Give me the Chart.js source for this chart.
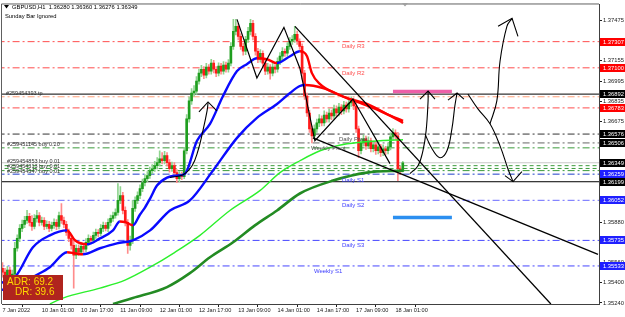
<!DOCTYPE html>
<html>
<head>
<meta charset="utf-8">
<title>GBPUSD H1</title>
<script src="https://cdn.jsdelivr.net/npm/chart.js@4.4.1/dist/chart.umd.min.js"></script>
<style>
    html, body { margin: 0; padding: 0; background: #ffffff; }
    #wrap { position: relative; width: 625px; height: 317px; }
</style>
</head>
<body>
<div id="wrap"><canvas id="chart" width="625" height="317"></canvas></div>
<script>
// ========================================
// GBPUSD H1 - chart data (bar index = hourly bar from 7 Jan 09:00)
// ========================================

const timeTickBars = [0, 16, 32, 48, 64, 80, 96, 112, 128, 144, 160];
const timeLabels = ['7 Jan 2022', '10 Jan 01:00', '10 Jan 17:00', '11 Jan 09:00', '12 Jan 01:00',
    '12 Jan 17:00', '13 Jan 09:00', '14 Jan 01:00', '14 Jan 17:00', '17 Jan 09:00', '18 Jan 01:00'];

const priceTicks = [1.37475, 1.37315, 1.37155, 1.36995, 1.36835, 1.36675, 1.36515, 1.36355,
    1.36195, 1.36035, 1.35880, 1.35720, 1.35560, 1.35400, 1.35240];

const opens = [
    1.35515,1.35484,1.35452,1.35500,1.35437,1.35468,1.35673,1.35751,1.35830,1.35862,
    1.35893,1.35925,1.35877,1.35846,1.35909,1.35932,1.35877,1.35893,1.35846,1.35862,
    1.35830,1.35854,1.35877,1.35846,1.35932,1.35893,1.35862,1.35799,1.35751,1.35696,
    1.35618,1.35673,1.35641,1.35689,1.35665,1.35720,1.35751,1.35736,1.35775,1.35799,
    1.35791,1.35830,1.35854,1.35830,1.35877,1.35909,1.35932,1.35956,1.36051,1.36090,
    1.35972,1.35877,1.35696,1.35736,1.35988,1.36051,1.36090,1.36145,1.36192,1.36224,
    1.36247,1.36287,1.36302,1.36326,1.36350,1.36381,1.36365,1.36405,1.36350,1.36302,
    1.36326,1.36271,1.36224,1.36255,1.36239,1.36444,1.36696,1.36838,1.36901,1.36916,
    1.36995,1.37058,1.37089,1.37042,1.37105,1.37074,1.37137,1.37089,1.37058,1.37113,
    1.37074,1.37121,1.37089,1.37137,1.37270,1.37388,1.37428,1.37349,1.37270,1.37231,
    1.37325,1.37388,1.37451,1.37349,1.37231,1.37168,1.37215,1.37137,1.37074,1.37105,
    1.37058,1.37105,1.37089,1.37152,1.37192,1.37231,1.37215,1.37270,1.37310,1.37325,
    1.37365,1.37310,1.37270,1.37058,1.36877,1.36743,1.36617,1.36562,1.36617,1.36664,
    1.36696,1.36664,1.36727,1.36696,1.36743,1.36719,1.36775,1.36743,1.36790,1.36759,
    1.36806,1.36775,1.36822,1.36838,1.36798,1.36617,1.36444,1.36507,1.36538,1.36483,
    1.36523,1.36460,1.36491,1.36444,1.36475,1.36428,1.36460,1.36444,1.36475,1.36554,
    1.36586,1.36562,1.36302,1.36280
];
const highs = [
    1.35560,1.35515,1.35530,1.35525,1.35500,1.35720,1.35780,1.35860,1.35895,1.35925,
    1.35972,1.35950,1.35932,1.35940,1.35972,1.35955,1.35920,1.35915,1.35890,1.35885,
    1.35880,1.35905,1.35900,1.35960,1.36027,1.35920,1.35885,1.35825,1.35780,1.35736,
    1.35700,1.35700,1.35715,1.35710,1.35750,1.35780,1.35770,1.35800,1.35825,1.35820,
    1.35860,1.35880,1.35875,1.35905,1.35935,1.35960,1.35985,1.36184,1.36160,1.36115,
    1.36000,1.35900,1.35770,1.36051,1.36080,1.36120,1.36175,1.36220,1.36255,1.36280,
    1.36315,1.36335,1.36360,1.36390,1.36444,1.36430,1.36440,1.36430,1.36375,1.36355,
    1.36350,1.36295,1.36280,1.36275,1.36470,1.36730,1.36870,1.36935,1.36960,1.37030,
    1.37090,1.37120,1.37110,1.37135,1.37125,1.37168,1.37160,1.37110,1.37140,1.37135,
    1.37150,1.37145,1.37165,1.37300,1.37483,1.37483,1.37450,1.37370,1.37295,1.37350,
    1.37420,1.37483,1.37475,1.37370,1.37255,1.37245,1.37235,1.37160,1.37135,1.37125,
    1.37135,1.37125,1.37180,1.37220,1.37260,1.37250,1.37300,1.37340,1.37355,1.37428,
    1.37390,1.37330,1.37290,1.37080,1.36900,1.36765,1.36640,1.36650,1.36695,1.36730,
    1.36720,1.36760,1.36750,1.36775,1.36765,1.36805,1.36800,1.36820,1.36810,1.36835,
    1.36830,1.36850,1.36870,1.36860,1.36820,1.36640,1.36540,1.36570,1.36560,1.36555,
    1.36545,1.36520,1.36515,1.36505,1.36495,1.36490,1.36480,1.36505,1.36585,1.36620,
    1.36610,1.36590,1.36320,1.36360
];
const lows = [
    1.35445,1.35420,1.35430,1.35410,1.35415,1.35450,1.35650,1.35725,1.35805,1.35835,
    1.35870,1.35850,1.35814,1.35825,1.35880,1.35850,1.35855,1.35820,1.35825,1.35805,
    1.35810,1.35830,1.35820,1.35825,1.35870,1.35835,1.35775,1.35725,1.35665,1.35358,
    1.35590,1.35615,1.35620,1.35640,1.35645,1.35695,1.35710,1.35715,1.35750,1.35765,
    1.35770,1.35805,1.35810,1.35805,1.35850,1.35885,1.35910,1.35935,1.36025,1.35945,
    1.35850,1.35633,1.35657,1.35710,1.35965,1.36025,1.36065,1.36120,1.36165,1.36200,
    1.36225,1.36260,1.36280,1.36300,1.36325,1.36340,1.36340,1.36325,1.36275,1.36280,
    1.36245,1.36192,1.36200,1.36215,1.36224,1.36420,1.36670,1.36810,1.36875,1.36890,
    1.36970,1.37030,1.37015,1.37020,1.37050,1.37050,1.37060,1.37030,1.37035,1.37050,
    1.37050,1.37065,1.37065,1.37115,1.37245,1.37360,1.37320,1.37245,1.37200,1.37205,
    1.37300,1.37360,1.37320,1.37200,1.37140,1.37145,1.37110,1.37045,1.37050,1.37011,
    1.37035,1.37060,1.37065,1.37125,1.37165,1.37190,1.37190,1.37245,1.37285,1.37300,
    1.37285,1.37245,1.37011,1.36850,1.36715,1.36590,1.36507,1.36535,1.36590,1.36635,
    1.36640,1.36640,1.36670,1.36670,1.36690,1.36695,1.36715,1.36720,1.36730,1.36735,
    1.36750,1.36750,1.36795,1.36770,1.36590,1.36389,1.36420,1.36480,1.36455,1.36460,
    1.36435,1.36435,1.36415,1.36420,1.36400,1.36405,1.36415,1.36420,1.36450,1.36530,
    1.36535,1.36208,1.36255,1.36276
];
const closes = [
    1.35484,1.35452,1.35500,1.35437,1.35468,1.35673,1.35751,1.35830,1.35862,1.35893,
    1.35925,1.35877,1.35846,1.35909,1.35932,1.35877,1.35893,1.35846,1.35862,1.35830,
    1.35854,1.35877,1.35846,1.35932,1.35893,1.35862,1.35799,1.35751,1.35696,1.35618,
    1.35673,1.35641,1.35689,1.35665,1.35720,1.35751,1.35736,1.35775,1.35799,1.35791,
    1.35830,1.35854,1.35830,1.35877,1.35909,1.35932,1.35956,1.36051,1.36090,1.35972,
    1.35877,1.35696,1.35736,1.35988,1.36051,1.36090,1.36145,1.36192,1.36224,1.36247,
    1.36287,1.36302,1.36326,1.36350,1.36381,1.36365,1.36405,1.36350,1.36302,1.36326,
    1.36271,1.36224,1.36255,1.36239,1.36444,1.36696,1.36838,1.36901,1.36916,1.36995,
    1.37058,1.37089,1.37042,1.37105,1.37074,1.37137,1.37089,1.37058,1.37113,1.37074,
    1.37121,1.37089,1.37137,1.37270,1.37388,1.37428,1.37349,1.37270,1.37231,1.37325,
    1.37388,1.37451,1.37349,1.37231,1.37168,1.37215,1.37137,1.37074,1.37105,1.37058,
    1.37105,1.37089,1.37152,1.37192,1.37231,1.37215,1.37270,1.37310,1.37325,1.37365,
    1.37310,1.37270,1.37058,1.36877,1.36743,1.36617,1.36562,1.36617,1.36664,1.36696,
    1.36664,1.36727,1.36696,1.36743,1.36719,1.36775,1.36743,1.36790,1.36759,1.36806,
    1.36775,1.36822,1.36838,1.36798,1.36617,1.36444,1.36507,1.36538,1.36483,1.36523,
    1.36460,1.36491,1.36444,1.36475,1.36428,1.36460,1.36444,1.36475,1.36554,1.36586,
    1.36562,1.36302,1.36280,1.36349
];

// Moving averages as [bar, price]
const fastMa = [
    [-1.0,1.35397],[5.1,1.35445],[12.4,1.35681],[19.3,1.35775],[26.3,1.35814],[29.5,1.35736],
    [34.4,1.35704],[39.7,1.35751],[45.0,1.35814],[47.8,1.35885],[50.3,1.35877],[53.1,1.35854],
    [56.0,1.35940],[58.0,1.35995],[60.1,1.36066],[62.9,1.36169],[67.0,1.36232],[70.6,1.36247],
    [74.3,1.36263],[79.2,1.36523],[84.5,1.36656],[89.8,1.36877],[95.5,1.37074],[99.5,1.37129],
    [103.6,1.37176],[107.7,1.37168],[111.8,1.37137],[117.1,1.37192],[121.1,1.37231],[124.0,1.37192],
    [126.0,1.37058],[129.3,1.36971],[136.2,1.36893],[145.6,1.36822],[153.7,1.36759],[161.8,1.36680],
    [163.1,1.36664]
];
const slowMa = [
    [-1.0,1.35342],[5.9,1.35366],[12.4,1.35445],[19.3,1.35523],[26.3,1.35641],[29.5,1.35633],
    [32.8,1.35625],[39.7,1.35673],[46.6,1.35712],[53.1,1.35736],[60.1,1.35814],[68.2,1.35972],
    [76.3,1.36051],[85.7,1.36287],[95.5,1.36546],[103.6,1.36704],[111.8,1.36814],[117.1,1.36901],
    [121.1,1.36956],[123.2,1.36964],[130.5,1.36940],[140.3,1.36861],[148.4,1.36814],[156.5,1.36735],
    [163.1,1.36680]
];
const limeMa = [
    [19.3,1.35232],[24.6,1.35279],[39.7,1.35358],[49.9,1.35421],[60.1,1.35523],[70.2,1.35641],
    [80.4,1.35775],[92.6,1.35972],[104.8,1.36129],[113.0,1.36271],[121.1,1.36365],[129.3,1.36444],
    [140.3,1.36499],[153.7,1.36523],[163.1,1.36531]
];
const darkGreenMa = [
    [45.0,1.35232],[53.1,1.35279],[67.0,1.35366],[76.3,1.35476],[84.5,1.35602],[93.9,1.35720],
    [102.8,1.35854],[111.8,1.35972],[121.1,1.36106],[134.6,1.36208],[148.4,1.36271],[163.1,1.36287]
];

// Horizontal levels (pivots, orders, bid)
const levelPrices = [1.37307, 1.37100, 1.36892, 1.36871, 1.36783, 1.36576, 1.36506, 1.36467,
    1.36349, 1.36326, 1.36304, 1.36287, 1.36259, 1.36199, 1.36052, 1.35735, 1.35533];

// Right-axis price tags
const tagPrices = [1.37307, 1.37100, 1.36892, 1.36783, 1.36576, 1.36506, 1.36349,
    1.36259, 1.36199, 1.36052, 1.35735, 1.35533];

// Hand drawn objects as [bar, price]
const trendSteep = [[119.1,1.37428],[223.3,1.35232]];
const trendLower = [[126.4,1.36546],[242.5,1.35625]];
const zigzag = [[95.5,1.37483],[103.6,1.37019],[114.6,1.37420],[121.1,1.37097],
    [127.2,1.36523],[142.7,1.36853],[157.8,1.36342]];
const arrowLeft = [[68.2,1.36232],[73.5,1.36255],[77.2,1.36326],[79.6,1.36444],[81.6,1.36601],[83.3,1.36759],[83.7,1.36822]];
const arrowLeftHead = [[80.0,1.36751],[83.7,1.36830],[87.3,1.36759]];
const arrowUp1 = [[165.9,1.36263],[169.2,1.36326],[171.2,1.36444],[172.5,1.36601],[173.3,1.36838],[173.3,1.36916]];
const arrowUp1Head = [[170.0,1.36853],[173.3,1.36916],[176.1,1.36853]];
const arrowUp2 = [[172.0,1.36578],[174.9,1.36460],[178.1,1.36389],[181.0,1.36444],[183.0,1.36617],[184.2,1.36798],[185.1,1.36901]];
const arrowUp2Head = [[181.4,1.36845],[185.1,1.36901],[187.9,1.36853]];
const arrowDown = [[189.5,1.36893],[193.6,1.36775],[198.5,1.36657],[202.6,1.36483],[205.8,1.36302],[207.9,1.36200]];
const arrowDownHead = [[204.6,1.36247],[207.9,1.36200],[211.5,1.36279]];
const arrowHigh = [[198.5,1.36657],[201.3,1.36838],[202.6,1.37152],[205.4,1.37428],[207.5,1.37491]];
const arrowHighHead = [[201.8,1.37428],[207.5,1.37491],[209.9,1.37349]];

const pinkZone = [[159.0,1.36912],[183.0,1.36912]];
const blueZone = [[159.0,1.35917],[183.0,1.35917]];

// ========================================
// Styles
// ========================================
const FONT = '"Liberation Sans", Arial, Helvetica, sans-serif';
const UP_BODY = '#1f9e1f', DOWN_BODY = '#ff1a1a';
const UP_WICK = '#8fd48f', DOWN_WICK = '#ff8c8c';
const MA_UP = '#0a0aff', MA_DOWN = '#ff0000';
const DASH_DOT = [7, 3, 2, 3];
const DASH = [4, 3];

const levelStyles = [
    ['#ff4d4d', DASH_DOT], ['#ff4d4d', DASH_DOT], ['#000000', []], ['#ffa07a', DASH_DOT],
    ['#ff4d4d', DASH_DOT], ['#333333', DASH_DOT], ['#666666', DASH_DOT], ['#3a9a3a', DASH_DOT],
    ['#c8c8c8', []], ['#3a9a3a', DASH], ['#3a9a3a', DASH], ['#3a9a3a', DASH_DOT],
    ['#1c3cc8', DASH_DOT], ['#000000', []], ['#6a6aff', DASH_DOT], ['#4646ff', DASH_DOT], ['#4646ff', DASH_DOT]
];
const tagColors = ['#ff0000', '#ff0000', '#000000', '#ff0000', '#000000', '#000000', '#000000',
    '#1f1fff', '#000000', '#1f1fff', '#1f1fff', '#1f1fff'];

// Text objects on the chart: [text, bar, price, color, size]
const chartTexts = [
    ['Daily R3', 138.2, 1.37290, '#ff4d4d', 6],
    ['Daily R2', 138.2, 1.37083, '#ff4d4d', 6],
    ['Daily Pivot', 137.0, 1.36559, '#505050', 6],
    ['Weekly Pivot', 125.6, 1.36489, '#505050', 6],
    ['Daily S1', 138.2, 1.36236, '#4040ff', 6],
    ['Daily S2', 138.2, 1.36035, '#4040ff', 6],
    ['Daily S3', 138.2, 1.35718, '#4040ff', 6],
    ['Weekly S1', 126.8, 1.35516, '#4040ff', 6],
    ['#259454393 tp', 1.4, 1.36920, '#303030', 5.5],
    ['#259451145 buy 0.20', 1.8, 1.36512, '#303030', 5.5],
    ['#259454853 buy 0.01', 1.8, 1.36380, '#303030', 5.5],
    ['#259454313 buy 0.01', 1.8, 1.36341, '#303030', 5.5],
    ['#259454347 buy 0.01', 1.8, 1.36305, '#303030', 5.5]
];

const pts = arr => arr.map(p => ({ x: p[0], y: p[1] }));
const isUp = closes.map((c, i) => c >= opens[i]);

function trendColor(ctx) {
    return ctx.p1.parsed.y < ctx.p0.parsed.y ? MA_DOWN : MA_UP;
}

function drawing(data, width, tension) {
    return {
        type: 'line', data: pts(data), borderColor: '#000000', borderWidth: width,
        pointRadius: 0, tension: tension, order: 1
    };
}

// ========================================
// Datasets
// ========================================
const datasets = [];

levelPrices.forEach((p, i) => {
    datasets.push({
        type: 'line',
        data: [{ x: -2, y: p }, { x: 246, y: p }],
        borderColor: levelStyles[i][0],
        borderDash: levelStyles[i][1],
        borderWidth: 1,
        pointRadius: 0,
        order: 9
    });
});

datasets.push({
    type: 'bar',
    data: highs.map((h, i) => ({ x: i, y: [lows[i], h] })),
    backgroundColor: isUp.map(u => u ? UP_WICK : DOWN_WICK),
    barThickness: 1,
    grouped: false,
    order: 8
});
datasets.push({
    type: 'bar',
    data: opens.map((o, i) => ({ x: i, y: [o, closes[i]] })),
    backgroundColor: isUp.map(u => u ? UP_BODY : DOWN_BODY),
    barThickness: 2,
    minBarLength: 1,
    grouped: false,
    order: 7
});

datasets.push({ type: 'line', data: pts(darkGreenMa), borderColor: '#238b23', borderWidth: 2.6, pointRadius: 0, cubicInterpolationMode: 'monotone', order: 6 });
datasets.push({ type: 'line', data: pts(limeMa), borderColor: '#2cf02c', borderWidth: 1.4, pointRadius: 0, cubicInterpolationMode: 'monotone', order: 6 });
datasets.push({ type: 'line', data: pts(slowMa), borderColor: MA_UP, borderWidth: 2.4, pointRadius: 0, cubicInterpolationMode: 'monotone', segment: { borderColor: trendColor }, order: 5 });
datasets.push({ type: 'line', data: pts(fastMa), borderColor: MA_UP, borderWidth: 2.4, pointRadius: 0, cubicInterpolationMode: 'monotone', segment: { borderColor: trendColor }, order: 5 });

datasets.push({ type: 'line', data: pts(pinkZone), borderColor: '#ee5fa8', borderWidth: 3.5, pointRadius: 0, order: 2 });
datasets.push({ type: 'line', data: pts(blueZone), borderColor: '#2b8ff0', borderWidth: 3.5, pointRadius: 0, order: 2 });

datasets.push(drawing(trendSteep, 1.3, 0));
datasets.push(drawing(trendLower, 1.3, 0));
datasets.push(drawing(zigzag, 1.2, 0));
datasets.push(drawing(arrowLeft, 1.1, 0.4));
datasets.push(drawing(arrowLeftHead, 1.1, 0));
datasets.push(drawing(arrowUp1, 1.1, 0.4));
datasets.push(drawing(arrowUp1Head, 1.1, 0));
datasets.push(drawing(arrowUp2, 1.1, 0.4));
datasets.push(drawing(arrowUp2Head, 1.1, 0));
datasets.push(drawing(arrowDown, 1.1, 0.4));
datasets.push(drawing(arrowDownHead, 1.1, 0));
datasets.push(drawing(arrowHigh, 1.1, 0.4));
datasets.push(drawing(arrowHighHead, 1.1, 0));

// ========================================
// Overlay plugin: frame, texts, price tags, ADR box, header
// ========================================
const overlayPlugin = {
    id: 'overlay',
    afterDatasetsDraw(chart) {
        const ctx = chart.ctx;
        const xs = chart.scales.x, ys = chart.scales.y;
        ctx.save();
        ctx.textAlign = 'left';
        ctx.textBaseline = 'top';
        chartTexts.forEach(t => {
            ctx.font = t[4] + 'px ' + FONT;
            ctx.fillStyle = t[3];
            ctx.fillText(t[0], xs.getPixelForValue(t[1]), ys.getPixelForValue(t[2]));
        });
        ctx.restore();
    },
    afterDraw(chart) {
        const ctx = chart.ctx;
        const area = chart.chartArea;
        const ys = chart.scales.y;
        ctx.save();

        // frame
        ctx.strokeStyle = '#606060';
        ctx.lineWidth = 1;
        ctx.beginPath();
        ctx.moveTo(area.left - 0.5, area.bottom);
        ctx.lineTo(area.left - 0.5, area.top - 0.5);
        ctx.lineTo(area.right, area.top - 0.5);
        ctx.stroke();

        // price tags on the right axis
        ctx.font = '5.8px ' + FONT;
        ctx.textBaseline = 'middle';
        ctx.textAlign = 'left';
        tagPrices.forEach((p, i) => {
            const y = Math.round(ys.getPixelForValue(p));
            ctx.fillStyle = tagColors[i];
            ctx.fillRect(area.right + 1, y - 4, 25, 8);
            ctx.fillStyle = '#ffffff';
            ctx.fillText(p.toFixed(5), area.right + 4, y + 0.5);
        });

        // ADR box
        ctx.fillStyle = '#b0241e';
        ctx.fillRect(3, 275, 60, 25);
        ctx.fillStyle = '#ffd800';
        ctx.font = '10px ' + FONT;
        ctx.fillText('ADR: 69.2', 7, 282);
        ctx.fillText('DR: 39.6', 15, 292);

        // header
        ctx.fillStyle = '#000000';
        ctx.beginPath();
        ctx.moveTo(4, 5); ctx.lineTo(9, 5); ctx.lineTo(6.5, 8.5); ctx.closePath();
        ctx.fill();
        ctx.font = '5.8px ' + FONT;
        ctx.fillStyle = '#000000';
        ctx.fillText('GBPUSD,H1  1.36280 1.36360 1.36276 1.36349', 12, 7.5);
        ctx.fillText('Sunday Bar Ignored', 5, 16.5);

        // chart shift marker
        ctx.fillStyle = '#a0a0a0';
        ctx.beginPath();
        ctx.moveTo(402, 3); ctx.lineTo(408, 3); ctx.lineTo(405, 6.5); ctx.closePath();
        ctx.fill();
        ctx.restore();
    }
};

// ========================================
// Chart
// ========================================
new Chart(document.getElementById('chart'), {
    type: 'bar',
    data: { datasets: datasets },
    options: {
        responsive: false,
        animation: false,
        devicePixelRatio: 1,
        events: [],
        layout: { padding: { left: 2, right: 0, top: 3, bottom: 0 } },
        plugins: { legend: { display: false }, tooltip: { enabled: false } },
        scales: {
            x: {
                type: 'linear',
                min: -0.2,
                max: 242.9,
                offset: false,
                grid: { drawOnChartArea: false, tickLength: 3, color: '#202020' },
                border: { color: '#404040' },
                ticks: {
                    autoSkip: false,
                    maxRotation: 0,
                    minRotation: 0,
                    align: 'start',
                    padding: 0,
                    color: '#1a1a1a',
                    font: { family: FONT, size: 5.6 },
                    callback: (v, idx) => timeLabels[idx]
                },
                afterBuildTicks: scale => { scale.ticks = timeTickBars.map(v => ({ value: v })); },
                afterFit: scale => { scale.height = 13; }
            },
            y: {
                type: 'linear',
                position: 'right',
                min: 1.35232,
                max: 1.37601,
                grid: { drawOnChartArea: false, tickLength: 3, color: '#202020' },
                border: { color: '#404040' },
                ticks: {
                    autoSkip: false,
                    padding: 1,
                    color: '#1a1a1a',
                    font: { family: FONT, size: 5.8 },
                    callback: v => v.toFixed(5)
                },
                afterBuildTicks: scale => { scale.ticks = priceTicks.map(v => ({ value: v })); },
                afterFit: scale => { scale.width = 26; }
            }
        }
    },
    plugins: [overlayPlugin]
});
</script>
</body>
</html>
